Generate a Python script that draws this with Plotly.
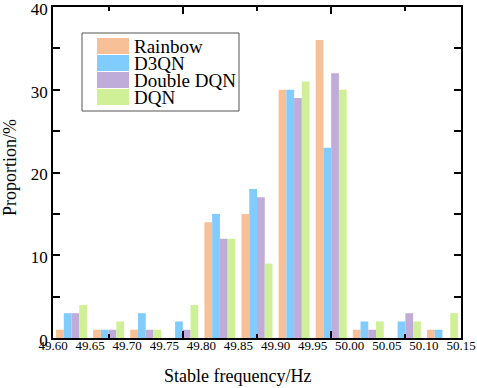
import plotly.graph_objects as go

edge_labels = ["49.60", "49.65", "49.70", "49.75", "49.80", "49.85",
               "49.90", "49.95", "50.00", "50.05", "50.10", "50.15"]
series_names = ["Rainbow", "D3QN", "Double DQN", "DQN"]
rainbow = [1, 1, 1, 0, 14, 15, 30, 36, 1, 0, 1]
d3qn = [3, 1, 3, 2, 15, 18, 30, 23, 2, 2, 1]
double_dqn = [3, 1, 1, 1, 12, 17, 29, 32, 1, 3, 0]
dqn = [4, 2, 1, 4, 12, 9, 31, 30, 2, 2, 3]
colors = ["#F8C096", "#80CCFF", "#C0ACD8", "#D0F098"]

bins = list(range(len(rainbow)))
edges = [b - 0.5 for b in range(len(edge_labels))]

FONT = "Liberation Serif"
fig = go.Figure()
for name, vals, c in zip(series_names, [rainbow, d3qn, double_dqn, dqn], colors):
    fig.add_trace(go.Bar(x=bins, y=vals, name=name, marker=dict(color=c, line=dict(width=0)),
                         showlegend=False, hoverinfo="x+y+name"))

fig.update_layout(
    width=477, height=388,
    margin=dict(l=53, r=16, t=7, b=50, autoexpand=False),
    paper_bgcolor="white", plot_bgcolor="white",
    barmode="group", bargap=0.165, bargroupgap=0,
    font=dict(family=FONT, color="black"),
    xaxis=dict(range=[-0.5, 10.5], tickmode="array", tickvals=edges, ticktext=edge_labels,
               ticks="", showline=True, linecolor="black", linewidth=1.6, mirror=True,
               showgrid=False, zeroline=False, tickfont=dict(size=13, family=FONT),
               ticklabelstandoff=-5, automargin=False, ticklabeloverflow="allow"),
    xaxis2=dict(range=[-0.5, 10.5], overlaying="x", anchor="y", side="bottom",
                tickmode="array", tickvals=[3, 7], ticks="inside", ticklen=7, tickwidth=1.6,
                tickcolor="black", showticklabels=False, showline=False, mirror="allticks",
                showgrid=False, zeroline=False, automargin=False,
                minor=dict(tickmode="array", tickvals=[1, 5, 9], ticks="inside", ticklen=4,
                           tickwidth=1.6, tickcolor="black", showgrid=False)),
    yaxis=dict(range=[0, 40], dtick=10, tick0=0, ticks="inside", ticklen=7, tickwidth=1.6,
               tickcolor="black", showline=True, linecolor="black", linewidth=1.6,
               mirror="allticks", showgrid=False, zeroline=False, automargin=False,
               ticklabeloverflow="allow", ticklabelshift=2,
               tickfont=dict(size=17, family=FONT),
               minor=dict(dtick=5, ticks="inside", ticklen=4, tickwidth=1.6,
                          tickcolor="black", showgrid=False)),
)
# invisible trace to keep the tick-only overlay axis alive
fig.add_trace(go.Scatter(x=[0], y=[0], xaxis="x2", mode="markers",
                         marker=dict(opacity=0), showlegend=False, hoverinfo="skip"))

# axis titles
fig.add_annotation(text="Stable frequency/Hz", xref="paper", yref="paper",
                   x=0.452, y=-0.115, showarrow=False, font=dict(size=18, family=FONT),
                   xanchor="center", yanchor="middle")
fig.add_annotation(text="Proportion/%", xref="paper", yref="paper",
                   x=-0.105, y=0.514, showarrow=False, textangle=-90,
                   font=dict(size=18, family=FONT), xanchor="center", yanchor="middle")

# legend box (drawn manually)
def px_x(p):
    return (p - 53) / 408.0

def px_y(p):
    return (338 - p) / 331.0

fig.add_shape(type="rect", xref="paper", yref="paper",
              x0=px_x(82), x1=px_x(239), y0=px_y(111), y1=px_y(33),
              line=dict(color="#555555", width=1), fillcolor="white", layer="above")
row_top = 38
row_h = 17
for i, (name, c) in enumerate(zip(series_names, colors)):
    top = row_top + i * row_h
    fig.add_shape(type="rect", xref="paper", yref="paper",
                  x0=px_x(97), x1=px_x(129), y0=px_y(top + 16), y1=px_y(top),
                  line=dict(width=0), fillcolor=c, layer="above")
    fig.add_annotation(text=name, xref="paper", yref="paper",
                       x=px_x(132), y=px_y(top + 8.5), showarrow=False,
                       xanchor="left", yanchor="middle", font=dict(size=19, family=FONT))

fig.write_html("out.html", config={"displayModeBar": False},
               post_script="document.body.style.margin='0';document.body.style.overflow='hidden';")
